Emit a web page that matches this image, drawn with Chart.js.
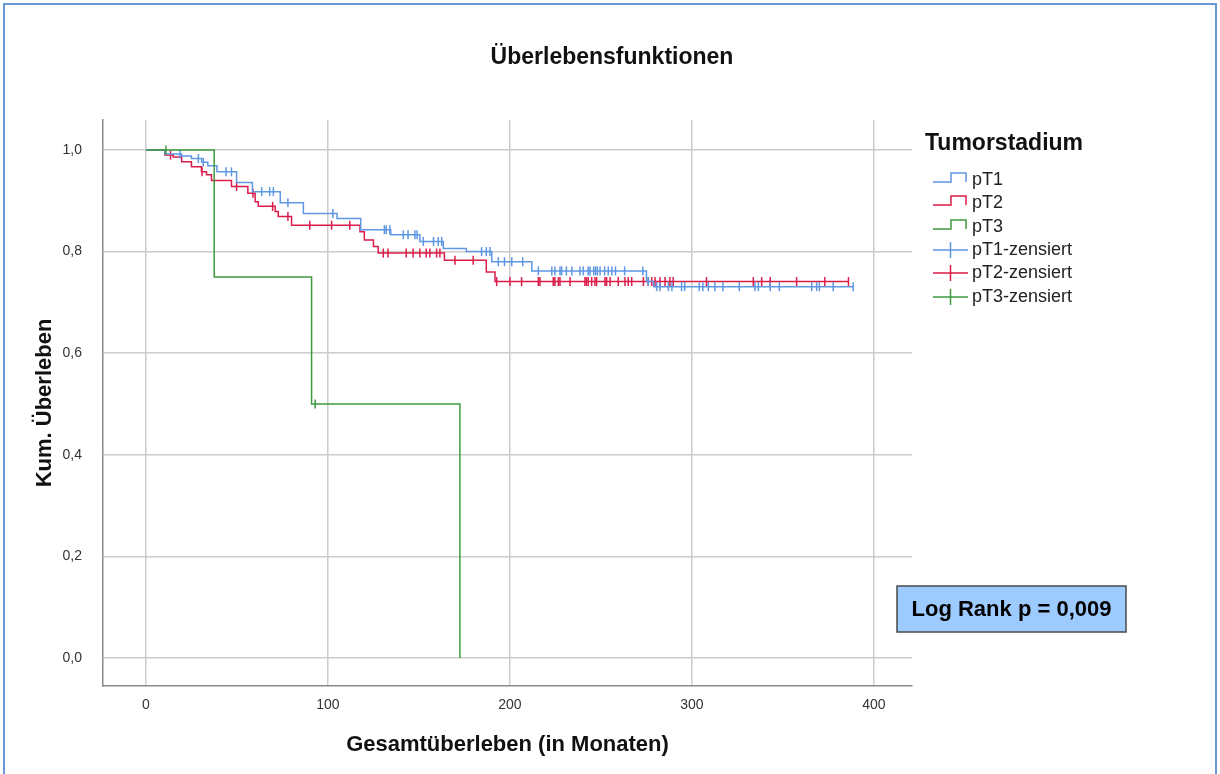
<!DOCTYPE html>
<html>
<head>
<meta charset="utf-8">
<script src="https://cdn.jsdelivr.net/npm/chart.js@4.4.1/dist/chart.umd.min.js"></script>
<style>
  html, body { margin: 0; padding: 0; background: #fff; }
  #wrap { position: relative; width: 1220px; height: 774px; overflow: hidden; }
  #c { position: absolute; left: 0; top: 0; }
  #frame { position: absolute; left: 3px; top: 3px; width: 1210px; height: 800px; border: 2px solid #6a96dc; }
</style>
</head>
<body>
<div id="wrap">
  <canvas id="c" width="1220" height="774"></canvas>
  <div id="frame"></div>
</div>
<script>
// Achsen
const xTicks = [0, 100, 200, 300, 400];
const yTicks = [0, 0.2, 0.4, 0.6, 0.8, 1.0];

// pT1: Ereigniszeiten + Überleben nach dem Schritt, zensierte Zeiten
const pT1Time = [0, 10.4, 19.6, 25, 30.6, 34, 39, 49.8, 58.5, 73.8, 86.5, 105, 118, 134.5, 150.5, 163.4, 176, 190, 212, 275, 279];
const pT1Surv = [1.0, 0.992, 0.988, 0.983, 0.976, 0.969, 0.957, 0.936, 0.918, 0.896, 0.875, 0.865, 0.843, 0.833, 0.820, 0.806, 0.800, 0.780, 0.762, 0.741, 0.731];
const pT1Censored = [18.7, 28.8, 31.5, 44, 47, 63.6, 68, 70, 78, 102.7, 131, 132, 134, 141.4, 144, 147.8, 149, 152.4, 158, 160.6, 162.5,
  184.4, 187, 189, 193.6, 197, 201, 207, 215.6, 223, 224.7, 227.5, 228.4, 231, 234, 238.5, 240.3, 243, 244, 246, 247, 248, 249.5,
  252, 254, 256, 258, 263, 273, 276, 280.6, 282.4, 287, 289, 294.3, 296, 304, 306, 309, 312.6, 317, 326, 334.6, 336.5, 343, 348,
  365.8, 368.5, 370, 377.6, 388.6];

// pT2
const pT2Time = [0, 10.4, 15, 19.6, 25, 30.5, 33.3, 36, 47, 56, 60, 61.7, 71, 72.7, 80, 117.6, 120, 125, 127.6, 164, 187, 191.8];
const pT2Surv = [1.0, 0.990, 0.986, 0.977, 0.967, 0.957, 0.951, 0.940, 0.928, 0.915, 0.898, 0.889, 0.879, 0.869, 0.852, 0.839, 0.823, 0.810, 0.797, 0.783, 0.760, 0.741];
const pT2Censored = [13.5, 30.8, 49.8, 58.8, 69.6, 78, 90, 102, 112, 130.4, 133, 143, 146.8, 150.5, 154, 156, 159.7, 161.5, 169.8, 179.8,
  192.7, 200, 206.4, 215.6, 216.5, 223.8, 224.7, 226.6, 227.5, 233, 241.2, 242, 243, 244.9, 246.7, 247.6, 252.2, 253.1, 255, 259.5,
  263.2, 265, 266.9, 273.3, 276, 277.9, 279.7, 282.4, 285.2, 287.9, 289.7, 308, 333.7, 338.3, 343, 357.5, 373, 386];

// pT3
const pT3Time = [0, 37.5, 91, 172.5];
const pT3Surv = [1.0, 0.75, 0.5, 0];
const pT3Censored = [11, 93];

const titleText = 'Überlebensfunktionen';
const legendTitle = 'Tumorstadium';
const legendLabels = ['pT1', 'pT2', 'pT3', 'pT1-zensiert', 'pT2-zensiert', 'pT3-zensiert'];
const pText = 'Log Rank p = 0,009';

const BLUE = '#5f97e3', RED = '#dc1c48', GREEN = '#3e9a3e';
const FONT = "'Liberation Sans', Arial, sans-serif";
Chart.defaults.font.family = FONT;

// Stufenlinie bis zur letzten Beobachtung
function kmLine(times, surv, censored) {
  const pts = times.map((t, i) => ({ x: t, y: surv[i] }));
  const last = censored.length ? Math.max(...censored) : 0;
  if (last > times[times.length - 1]) pts.push({ x: last, y: surv[surv.length - 1] });
  return pts;
}
// Wert der Kurve zu einer Zeit (für die Zensierungsstriche)
function survAt(times, surv, t) {
  let s = surv[0];
  for (let i = 0; i < times.length; i++) if (times[i] <= t) s = surv[i];
  return s;
}
function censorPts(times, surv, censored) {
  return censored.map(t => ({ x: t, y: survAt(times, surv, t) }));
}

function lineDs(label, times, surv, censored, color, order) {
  return { type: 'line', label, data: kmLine(times, surv, censored), borderColor: color, borderWidth: 1.5,
    stepped: true, pointRadius: 0, fill: false, order };
}
function censorDs(label, times, surv, censored, color, order) {
  return { type: 'scatter', label, data: censorPts(times, surv, censored), borderColor: color, backgroundColor: color,
    pointStyle: 'line', rotation: 90, pointRadius: 4.5, borderWidth: 1.5, showLine: false, order };
}

// Titel, Legende (SPSS-Stil) und p-Wert-Kasten
const decorPlugin = {
  id: 'decor',
  afterDraw(chart) {
    const ctx = chart.ctx;
    ctx.save();
    ctx.fillStyle = '#111';
    ctx.textBaseline = 'middle';
    ctx.textAlign = 'center';
    ctx.font = 'bold 23px ' + FONT;
    ctx.fillText(titleText, 612, 58);

    ctx.textAlign = 'left';
    ctx.fillText(legendTitle, 925, 144);
    const colors = [BLUE, RED, GREEN, BLUE, RED, GREEN];
    const rowY = [180, 203, 227, 250, 273, 297];
    ctx.font = '18px ' + FONT;
    legendLabels.forEach((lab, i) => {
      const y = rowY[i];
      ctx.strokeStyle = colors[i];
      ctx.lineWidth = 1.5;
      ctx.beginPath();
      if (i < 3) {
        ctx.moveTo(933, y + 2); ctx.lineTo(951, y + 2); ctx.lineTo(951, y - 7);
        ctx.lineTo(966, y - 7); ctx.lineTo(966, y + 2);
      } else {
        ctx.moveTo(933, y); ctx.lineTo(968, y);
        ctx.moveTo(950.5, y - 8); ctx.lineTo(950.5, y + 8);
      }
      ctx.stroke();
      ctx.fillStyle = '#222';
      ctx.fillText(lab, 972, y);
    });

    ctx.fillStyle = '#9ecbff';
    ctx.fillRect(897, 586, 229, 46);
    ctx.strokeStyle = '#4a4a4a';
    ctx.lineWidth = 1.5;
    ctx.strokeRect(897, 586, 229, 46);
    ctx.fillStyle = '#000';
    ctx.font = 'bold 22px ' + FONT;
    ctx.textAlign = 'center';
    ctx.fillText(pText, 1011.5, 610);
    ctx.restore();
  }
};

new Chart(document.getElementById('c'), {
  type: 'scatter',
  data: {
    datasets: [
      lineDs('pT1', pT1Time, pT1Surv, pT1Censored, BLUE, 3),
      lineDs('pT2', pT2Time, pT2Surv, pT2Censored, RED, 5),
      lineDs('pT3', pT3Time, pT3Surv, pT3Censored, GREEN, 0),
      censorDs('pT1-zensiert', pT1Time, pT1Surv, pT1Censored, BLUE, 2),
      censorDs('pT2-zensiert', pT2Time, pT2Surv, pT2Censored, RED, 4),
      censorDs('pT3-zensiert', pT3Time, pT3Surv, pT3Censored, GREEN, 1)
    ]
  },
  options: {
    responsive: false,
    animation: false,
    layout: { padding: { left: 0, right: 308, top: 120, bottom: 0 } },
    plugins: {
      legend: { display: false },
      tooltip: { enabled: false },
      title: { display: false }
    },
    scales: {
      x: {
        type: 'linear', min: -23.6, max: 420.9,
        afterBuildTicks: s => { s.ticks = xTicks.map(v => ({ value: v })); },
        afterFit: s => { s.height = 88; },
        grid: { color: '#cccccc', lineWidth: 1.5, drawTicks: false },
        border: { color: '#8a8a8a', width: 1.5 },
        ticks: { padding: 11, color: '#333', font: { size: 14 }, maxRotation: 0, callback: v => String(v) },
        title: {
          display: true, text: 'Gesamtüberleben (in Monaten)', color: '#111',
          font: { size: 22, weight: 'bold' }, padding: { top: 0, bottom: 16 }
        }
      },
      y: {
        type: 'linear', min: -0.055, max: 1.059,
        afterBuildTicks: s => { s.ticks = yTicks.map(v => ({ value: v })); },
        afterFit: s => { s.width = 103; },
        grid: { color: '#cccccc', lineWidth: 1.5, drawTicks: false },
        border: { color: '#8a8a8a', width: 1.5 },
        ticks: { padding: 21, color: '#333', font: { size: 14 }, callback: v => v.toFixed(1).replace('.', ',') },
        title: {
          display: true, text: 'Kum. Überleben', color: '#111',
          font: { size: 22, weight: 'bold' }, padding: { top: 32, bottom: 0 }
        }
      }
    }
  },
  plugins: [decorPlugin]
});
</script>
</body>
</html>
